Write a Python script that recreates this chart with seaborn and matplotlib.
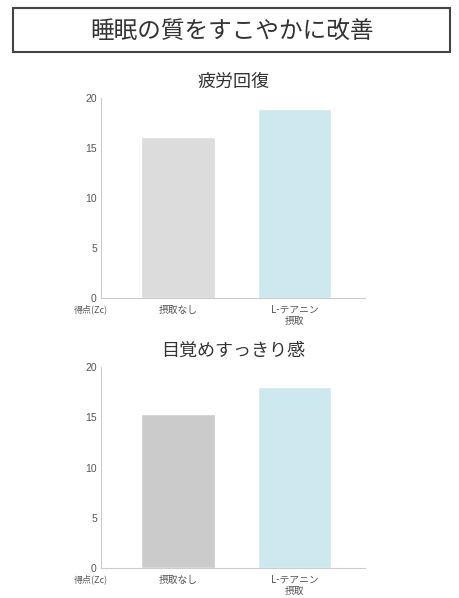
import pandas as pd
import seaborn as sns
import matplotlib.pyplot as plt
from matplotlib.patches import Rectangle

sns.set_style('white')
plt.rcParams['font.family'] = ['Liberation Sans', 'Noto Sans CJK JP', 'DejaVu Sans']
cjk = ['Noto Sans CJK JP', 'DejaVu Sans']

main_title = '睡眠の質をすこやかに改善'
chart_titles = ['疲労回復', '目覚めすっきり感']
categories = ['摂取なし', 'L-テアニン\n摂取']
fatigue_scores = [16.1, 18.9]
waking_scores = [15.3, 18.0]
y_label = '得点(Zc)'
y_ticks = [0, 5, 10, 15, 20]

bar_colors = [
    ['#dcdcdc', '#cde8ee'],
    ['#cbcbcb', '#cde8ee'],
]

fig = plt.figure(figsize=(4.6, 5.98), dpi=100)

# title box across the top
fig.patches.append(Rectangle((13 / 460, 1 - 52 / 598), 437 / 460, 44 / 598,
                             transform=fig.transFigure, fill=False,
                             edgecolor='#444444', linewidth=1.5))
fig.text(232 / 460, 1 - 31 / 598, main_title, ha='center', va='center',
         fontsize=17, color='#333333', family=cjk)

ax_boxes = [
    [101 / 460, 300 / 598, 264 / 460, 200 / 598],
    [101 / 460, 30 / 598, 264 / 460, 201 / 598],
]

for box, title, scores, colors in zip(ax_boxes, chart_titles,
                                      [fatigue_scores, waking_scores], bar_colors):
    ax = fig.add_axes(box)
    df = pd.DataFrame({'group': categories, 'score': scores})
    sns.barplot(data=df, x='group', y='score', hue='group', palette=colors,
                saturation=1, width=0.63, legend=False, ax=ax)

    ax.set_xlim(-0.66, 1.605)
    ax.set_ylim(0, 20)
    ax.set_yticks(y_ticks)
    ax.set_xlabel('')
    ax.set_ylabel('')
    ax.tick_params(axis='both', length=0, colors='#555555')
    ax.tick_params(axis='y', pad=3, labelsize=7.5)
    ax.tick_params(axis='x', pad=5, labelsize=7)
    for lbl in ax.get_xticklabels():
        lbl.set_family(cjk)
        lbl.set_linespacing(1.1)

    for side in ['top', 'right']:
        ax.spines[side].set_visible(False)
    for side in ['left', 'bottom']:
        ax.spines[side].set_color('#cccccc')
        ax.spines[side].set_linewidth(0.8)

    ax.set_title(title, fontsize=13, color='#333333', pad=8, family=cjk)
    ax.text(-0.04, -0.055, y_label, transform=ax.transAxes, ha='center',
            va='center', fontsize=6.5, color='#555555', family=cjk)

fig.savefig('out.png', dpi=100)
